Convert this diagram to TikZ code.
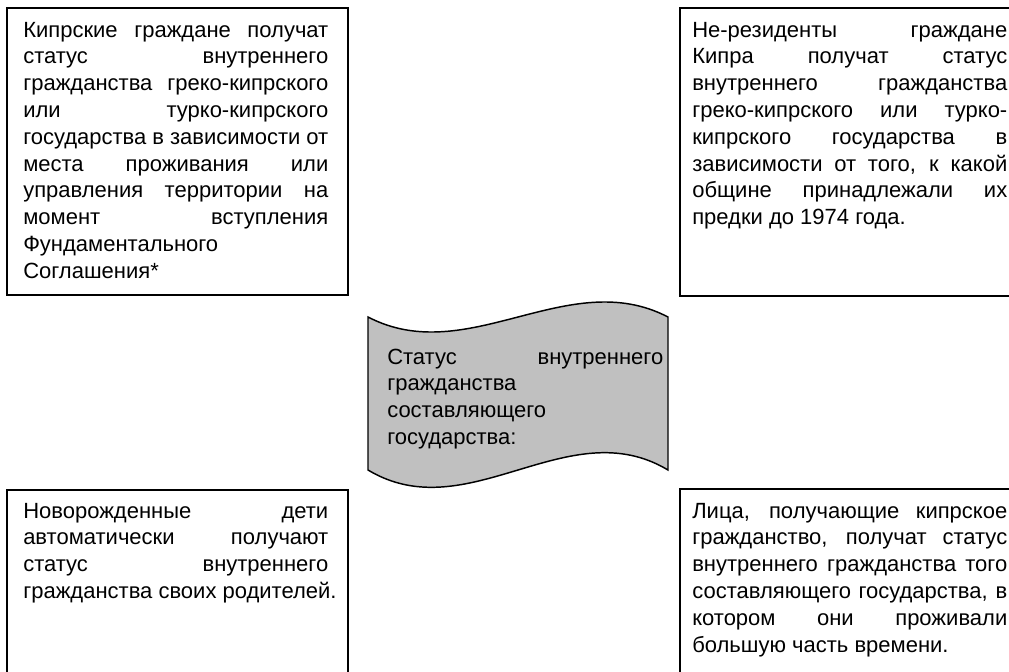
\documentclass[tikz,border=0pt]{standalone}
\usepackage{fontspec}
\setmainfont{Liberation Sans}
\definecolor{bannergray}{RGB}{192,192,192}
\newcommand{\jl}[2]{\leavevmode\hbox to #1{\spaceskip=0pt\xspaceskip=0pt #2}}
\tikzset{
  boxline/.style={draw=black, line width=1.5pt},
  bannerline/.style={draw=black, line width=1.1pt, fill=bannergray},
  txt/.style={anchor=base west, inner sep=0pt, align=flush left,
    font=\fontsize{16.5}{20.1}\selectfont},
}
\begin{document}
\begin{tikzpicture}[x=0.75pt,y=-0.75pt]
\clip (0,0) rectangle (1009,671);
\fill[white] (0,0) rectangle (1009,671);
% boxes
\draw[boxline] (7,8) rectangle (348,295);
\draw[boxline] (680,8) rectangle (1030,296);
\draw[boxline] (7,490) rectangle (348,690);
\draw[boxline] (680,489) rectangle (1030,690);
% banner
\draw[bannerline] (368,317) .. controls (468,369) and (568,265) .. (668,317)
  -- (668,470) .. controls (568,410) and (468,530) .. (368,470) -- cycle;
% texts
\def\wL{228.75pt}
\def\wR{236.25pt}
\def\wB{207pt}
\node[txt, text width=\wL] (tltext) at (23,37) {%
\jl{\wL}{Кипрские граждане получат}\\
\jl{\wL}{статус внутреннего}\\
\jl{\wL}{гражданства греко-кипрского}\\
\jl{\wL}{или турко-кипрского}\\
\jl{\wL}{государства в зависимости от}\\
\jl{\wL}{места проживания или}\\
\jl{\wL}{управления территории на}\\
\jl{\wL}{момент вступления}\\
Фундаментального\\
Соглашения*};
\node[txt, text width=\wR] (trtext) at (692,37) {%
\jl{\wR}{Не-резиденты граждане}\\
\jl{\wR}{Кипра получат статус}\\
\jl{\wR}{внутреннего гражданства}\\
\jl{\wR}{греко-кипрского или турко-}\\
\jl{\wR}{кипрского государства в}\\
\jl{\wR}{зависимости от того, к какой}\\
\jl{\wR}{общине принадлежали их}\\
предки до 1974 года.};
\node[txt, text width=\wB] (bannertext) at (387,364) {%
\jl{\wB}{Статус внутреннего}\\
гражданства\\
составляющего\\
государства:};
\node[txt, text width=\wL] (bltext) at (23,518) {%
\jl{\wL}{Новорожденные дети}\\
\jl{\wL}{автоматически получают}\\
\jl{\wL}{статус внутреннего}\\
\mbox{гражданства своих родителей.}};
\node[txt, text width=\wR] (brtext) at (692,518) {%
\jl{\wR}{Лица, получающие кипрское}\\
\jl{\wR}{гражданство, получат статус}\\
\jl{\wR}{внутреннего гражданства того}\\
\jl{\wR}{составляющего государства, в}\\
\jl{\wR}{котором они проживали}\\
большую часть времени.};
\end{tikzpicture}
\end{document}
